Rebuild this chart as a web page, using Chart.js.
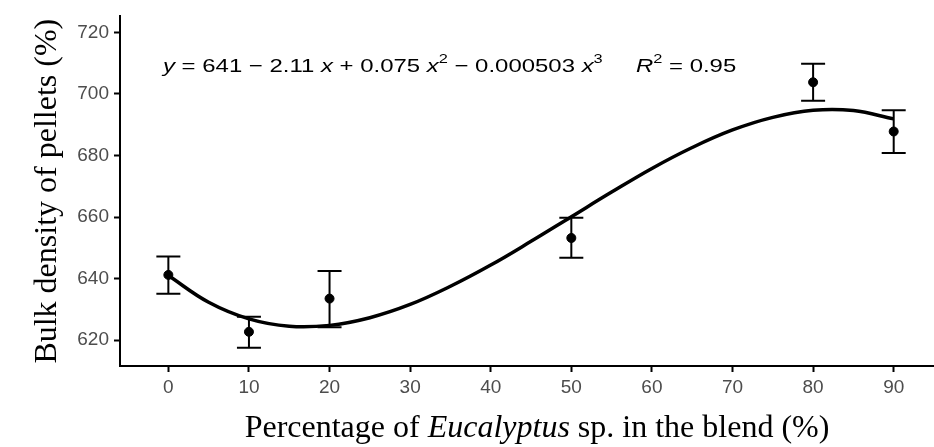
<!DOCTYPE html>
<html>
<head>
<meta charset="utf-8">
<script src="https://cdn.jsdelivr.net/npm/chart.js@4.4.0/dist/chart.umd.min.js"></script>
<style>
html, body { margin: 0; padding: 0; background: #fff; overflow: hidden; }
#wrap { position: relative; width: 934px; height: 447px; }
</style>
</head>
<body>
<div id="wrap"><canvas id="densityChart"></canvas></div>
<script>
// Bulk density of pellets against the Eucalyptus share of the blend

const blendLevels = [0, 10, 20, 50, 80, 90];
const meanDensity = [641.2, 622.7, 633.5, 653.2, 703.8, 687.8];
const errorLow = [635.1, 617.5, 624.2, 646.8, 697.8, 680.8];
const errorHigh = [647.2, 627.6, 642.5, 659.8, 709.8, 694.7];

// fitted curve, every 5 %
const curveX = [0, 5, 10, 15, 20, 25, 30, 35, 40, 45, 50, 55, 60, 65, 70, 75, 80, 85, 90];
const curveY = [641, 632.3, 626.9, 624.5, 624.8, 627.3, 631.6, 637.5, 644.4, 652.1, 660.1, 668.1, 675.8, 682.6, 688.3, 692.4, 694.7, 694.6, 691.9];

const xTicks = [0, 10, 20, 30, 40, 50, 60, 70, 80, 90];
const yTicks = [620, 640, 660, 680, 700, 720];

const SANS = '"Liberation Sans", Arial, sans-serif';
const SERIF = '"Liberation Serif", "Times New Roman", serif';

// equation label: [style, text, superscript]
const eqParts = [
    ['italic', 'y', false], ['normal', ' = 641 \u2212 2.11 ', false], ['italic', 'x', false],
    ['normal', ' + 0.075 ', false], ['italic', 'x', false], ['normal', '2', true],
    ['normal', ' \u2212 0.000503 ', false], ['italic', 'x', false], ['normal', '3', true],
    ['normal', '     ', false], ['italic', 'R', false], ['normal', '2', true], ['normal', ' = 0.95', false]
];

const xTitleParts = [
    ['normal', 'Percentage of '], ['italic', 'Eucalyptus'], ['normal', ' sp. in the blend (%)']
];

const errorBars = {
    id: 'errorBars',
    afterDatasetsDraw(chart) {
        const { ctx, scales: { x, y } } = chart;
        ctx.save();
        ctx.strokeStyle = '#000';
        ctx.lineWidth = 2;
        blendLevels.forEach((lvl, i) => {
            const px = x.getPixelForValue(lvl);
            const top = y.getPixelForValue(errorHigh[i]);
            const bot = y.getPixelForValue(errorLow[i]);
            ctx.beginPath();
            ctx.moveTo(px, top); ctx.lineTo(px, bot);
            ctx.moveTo(px - 12, top); ctx.lineTo(px + 12, top);
            ctx.moveTo(px - 12, bot); ctx.lineTo(px + 12, bot);
            ctx.stroke();
        });
        ctx.restore();
    }
};

function drawParts(ctx, parts, x0, y0, size, family, supSize) {
    let cx = x0;
    parts.forEach(p => {
        const sup = p[2];
        ctx.font = p[0] + ' ' + (sup ? supSize : size) + 'px ' + family;
        ctx.fillText(p[1], cx, sup ? y0 - size * 0.45 : y0);
        cx += ctx.measureText(p[1]).width;
    });
}

function partsWidth(ctx, parts, size, family) {
    let w = 0;
    parts.forEach(p => {
        ctx.font = p[0] + ' ' + size + 'px ' + family;
        w += ctx.measureText(p[1]).width;
    });
    return w;
}

const labels = {
    id: 'labels',
    afterDraw(chart) {
        const { ctx, chartArea } = chart;
        ctx.save();
        ctx.fillStyle = '#000';
        ctx.textBaseline = 'alphabetic';
        // the equation in the source is set wide, so stretch it sideways
        ctx.save();
        ctx.translate(chartArea.left + 43, 72);
        ctx.scale(1.26, 1);
        drawParts(ctx, eqParts, 0, 0, 19, SANS, 13);
        ctx.restore();

        // x axis title with italic genus name
        const size = 32;
        const w = partsWidth(ctx, xTitleParts, size, SERIF);
        const cx = (chartArea.left + chartArea.right) / 2 + 10;
        drawParts(ctx, xTitleParts, cx - w / 2, 437, size, SERIF, size);
        ctx.restore();
    }
};

new Chart(document.getElementById('densityChart'), {
    type: 'scatter',
    data: {
        datasets: [{
            data: curveX.map((v, i) => ({ x: v, y: curveY[i] })),
            showLine: true,
            borderColor: '#000',
            borderWidth: 3.5,
            pointRadius: 0,
            tension: 0.4
        }, {
            data: blendLevels.map((v, i) => ({ x: v, y: meanDensity[i] })),
            pointRadius: 4.5,
            backgroundColor: '#000',
            borderColor: '#000'
        }]
    },
    options: {
        responsive: true,
        maintainAspectRatio: false,
        animation: false,
        layout: { autoPadding: false, padding: { top: 13, left: 0, right: 0, bottom: 0 } },
        plugins: { legend: { display: false }, tooltip: { enabled: false } },
        scales: {
            x: {
                type: 'linear',
                min: -6,
                max: 95,
                afterBuildTicks: s => { s.ticks = xTicks.map(v => ({ value: v })); },
                afterFit: s => { s.height = 81; s.paddingLeft = 0; s.paddingRight = 0; },
                grid: { drawOnChartArea: false, tickLength: 6, tickColor: '#000', tickWidth: 2 },
                border: { color: '#000', width: 2 },
                ticks: { color: '#4d4d4d', font: { family: SANS, size: 19 }, padding: 4, maxRotation: 0 }
            },
            y: {
                min: 611.6,
                max: 725.2,
                afterBuildTicks: s => { s.ticks = yTicks.map(v => ({ value: v })); },
                afterFit: s => { s.width = 120; },
                grid: { drawOnChartArea: false, tickLength: 6, tickColor: '#000', tickWidth: 2 },
                border: { color: '#000', width: 2 },
                ticks: { color: '#4d4d4d', font: { family: SANS, size: 19 }, padding: 5 },
                title: {
                    display: true,
                    text: 'Bulk density of pellets (%)',
                    color: '#000',
                    font: { family: SERIF, size: 32 },
                    padding: { top: 28, bottom: 0 }
                }
            }
        }
    },
    plugins: [errorBars, labels]
});
</script>
</body>
</html>
